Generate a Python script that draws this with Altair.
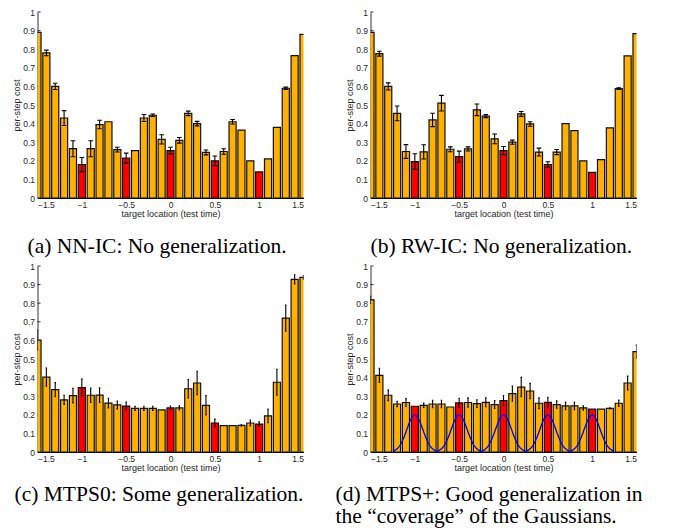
import altair as alt
import pandas as pd

# ---------------- data ----------------
locs = [-1.5, -1.4, -1.3, -1.2, -1.1, -1.0, -0.9, -0.8, -0.7, -0.6, -0.5,
        -0.4, -0.3, -0.2, -0.1, 0.0, 0.1, 0.2, 0.3, 0.4, 0.5,
        0.6, 0.7, 0.8, 0.9, 1.0, 1.1, 1.2, 1.3, 1.4, 1.5]
train_locs = [-1.0, -0.5, 0.0, 0.5, 1.0]

a_vals = [0.89, 0.78, 0.60, 0.43, 0.265, 0.18, 0.265, 0.395, 0.41, 0.26, 0.215,
          0.255, 0.43, 0.445, 0.315, 0.255, 0.31, 0.455, 0.40, 0.245, 0.20,
          0.25, 0.41, 0.365, 0.20, 0.14, 0.21, 0.38, 0.59, 0.765, 0.88]
a_err = [0.0, 0.015, 0.017, 0.04, 0.043, 0.038, 0.043, 0.023, 0.0, 0.013, 0.026,
         0.0, 0.019, 0.007, 0.025, 0.018, 0.015, 0.012, 0.012, 0.013, 0.026,
         0.015, 0.012, 0.0, 0.0, 0.0, 0.0, 0.0, 0.006, 0.0, 0.0]

b_vals = [0.89, 0.776, 0.60, 0.455, 0.25, 0.196, 0.248, 0.42, 0.51, 0.262, 0.222,
          0.264, 0.474, 0.44, 0.318, 0.255, 0.30, 0.452, 0.398, 0.247, 0.18,
          0.247, 0.40, 0.362, 0.20, 0.138, 0.206, 0.377, 0.588, 0.764, 0.884]
b_err = [0.0, 0.013, 0.019, 0.04, 0.037, 0.042, 0.038, 0.036, 0.042, 0.013, 0.03,
         0.011, 0.031, 0.008, 0.026, 0.022, 0.011, 0.013, 0.012, 0.021, 0.015,
         0.014, 0.0, 0.0, 0.0, 0.0, 0.0, 0.0, 0.005, 0.0, 0.0]

c_vals = [0.602, 0.403, 0.335, 0.28, 0.303, 0.346, 0.305, 0.306, 0.263, 0.253, 0.247,
          0.235, 0.235, 0.235, 0.226, 0.237, 0.237, 0.34, 0.371, 0.251, 0.156,
          0.142, 0.142, 0.143, 0.156, 0.15, 0.194, 0.375, 0.72, 0.928, 0.939]
c_err = [0.054, 0.049, 0.038, 0.025, 0.039, 0.047, 0.039, 0.039, 0.026, 0.021, 0.021,
         0.011, 0.011, 0.011, 0.0, 0.01, 0.011, 0.05, 0.063, 0.052, 0.021,
         0.0, 0.0, 0.004, 0.016, 0.012, 0.037, 0.07, 0.07, 0.025, 0.01]

d_vals = [0.818, 0.412, 0.305, 0.258, 0.266, 0.246, 0.251, 0.258, 0.258, 0.242, 0.264,
          0.266, 0.26, 0.267, 0.255, 0.276, 0.314, 0.349, 0.328, 0.262, 0.267,
          0.255, 0.248, 0.248, 0.237, 0.23, 0.23, 0.235, 0.262, 0.371, 0.54]
d_err = [0.02, 0.038, 0.029, 0.014, 0.021, 0.0, 0.012, 0.02, 0.02, 0.0, 0.025,
         0.025, 0.021, 0.024, 0.021, 0.027, 0.041, 0.052, 0.041, 0.029, 0.027,
         0.02, 0.02, 0.02, 0.012, 0.0, 0.0, 0.003, 0.017, 0.037, 0.036]

# Gaussian basis bumps (panel d): centres and one half-profile
g_centres = [-1.0, -0.5, 0.0, 0.5, 1.0]
g_offsets = [0.0, 0.025, 0.05, 0.075, 0.1, 0.125, 0.15, 0.175, 0.2, 0.225, 0.25]
g_profile = [0.200, 0.192, 0.171, 0.141, 0.108, 0.076, 0.050, 0.030, 0.017, 0.009, 0.004]

x_ticks = [-1.5, -1.0, -0.5, 0.0, 0.5, 1.0, 1.5]
y_ticks = [0, 0.1, 0.2, 0.3, 0.4, 0.5, 0.6, 0.7, 0.8, 0.9, 1.0]

captions = {
    "a": ["(a) NN-IC: No generalization."],
    "b": ["(b) RW-IC: No generalization."],
    "c": ["(c) MTPS0: Some generalization."],
    "d": ["(d) MTPS+: Good generalization in", "the \u201ccoverage\u201d of the Gaussians."],
}

# ---------------- styling ----------------
W, H = 266, 186
ORANGE = "#FFB000"
RED = "#FF0000"
SANS = "Liberation Sans"
SERIF = "Liberation Serif"

xs = alt.Scale(domain=[-1.5, 1.5], nice=False, zero=False)
ys = alt.Scale(domain=[0, 1], nice=False)
x_axis = alt.Axis(values=x_ticks, format="~g", title="target location (test time)",
                  grid=False, tickSize=0, labelPadding=2.5, titlePadding=0,
                  domain=True, domainColor="black", domainWidth=1.2, zindex=1)
y_axis = alt.Axis(values=y_ticks, format="~g", title="per-step cost",
                  grid=False, tickSize=0, labelPadding=3, titlePadding=1.5,
                  domain=True, domainColor="#333333", domainWidth=1)


def X(field):
    return alt.X(field, scale=xs, axis=x_axis)


def Y(field):
    return alt.Y(field, scale=ys, axis=y_axis)


def panel(vals, errs, cap_lines, cap_dx, cap_dy, cap_w, gauss=False, dx2=None):
    df = pd.DataFrame({
        "loc": locs,
        "val": vals,
        "err": errs,
        "kind": ["train" if l in train_locs else "test" for l in locs],
    })
    base = alt.Chart(df)
    ticks = alt.Chart(pd.DataFrame({"v": y_ticks})).mark_rule(
        color="#333333", strokeWidth=1).encode(
        y=Y("v:Q"), x=alt.value(0), x2=alt.value(3))
    bars = base.transform_calculate(
        x0="datum.loc - 0.04", x1="datum.loc + 0.04", z="0"
    ).mark_bar(clip=True, stroke="#111111", strokeWidth=1.2).encode(
        x=X("x0:Q"), x2="x1:Q", y=Y("val:Q"), y2="z:Q",
        color=alt.Color("kind:N", scale=alt.Scale(domain=["train", "test"],
                                                  range=[RED, ORANGE]), legend=None),
    )
    eb = base.transform_filter("datum.err > 0").transform_calculate(
        lo="datum.val - datum.err", hi="datum.val + datum.err")
    stems = eb.mark_rule(clip=True, color="black", strokeWidth=1.1).encode(
        x=X("loc:Q"), y=Y("lo:Q"), y2="hi:Q")
    caps = eb.transform_fold(["lo", "hi"], as_=["end", "yv"]).transform_calculate(
        c0=f"datum.loc - {cap_w}", c1=f"datum.loc + {cap_w}"
    ).mark_rule(clip=True, color="black", strokeWidth=1.1).encode(
        x=X("c0:Q"), x2="c1:Q", y=Y("yv:Q"))
    layers = [ticks, bars, stems, caps]
    if gauss:
        rows = []
        sym_off = [-o for o in reversed(g_offsets[1:])] + g_offsets
        sym_val = list(reversed(g_profile[1:])) + g_profile
        i = 0
        for c in g_centres:
            for o, v in zip(sym_off, sym_val):
                rows.append({"gx": c + o, "gy": v, "i": i})
                i += 1
        gdf = pd.DataFrame(rows)
        layers.append(alt.Chart(gdf).mark_line(
            color="#0000FF", strokeWidth=1.3, interpolate="monotone").encode(
            x=X("gx:Q"), y=Y("gy:Q"), order="i:Q"))
    for k, line in enumerate(cap_lines):
        dx = cap_dx if (k == 0 or dx2 is None) else dx2
        layers.append(alt.Chart(pd.DataFrame({"t": [line]})).mark_text(
            align="left", baseline="alphabetic", font=SERIF, fontSize=21.5,
            color="black").encode(
            text="t:N", x=alt.value(dx), y=alt.value(cap_dy + 22 * k)))
    return alt.layer(*layers).properties(width=W, height=H)


pa = panel(a_vals, a_err, captions["a"], -10, 241, 0.026)
pb = panel(b_vals, b_err, captions["b"], 0, 241, 0.026)
pc = panel(c_vals, c_err, captions["c"], -23, 235, 0.008)
pd_ = panel(d_vals, d_err, captions["d"], -35, 235, 0.008, gauss=True, dx2=-35)

chart = alt.concat(pa, pb, pc, pd_, columns=2,
                   spacing={"row": 68, "column": 67},
                   bounds="flush").properties(
    padding={"left": 3.5, "top": 0, "right": 0, "bottom": 0},
    background="white",
).configure_view(stroke=None).configure_axis(
    labelFont=SANS, labelFontSize=8.5, labelColor="#262626",
    titleFont=SANS, titleFontSize=9, titleColor="#262626", titleFontWeight="normal",
)

chart.save("out.html", embed_options={"renderer": "svg", "actions": False})
